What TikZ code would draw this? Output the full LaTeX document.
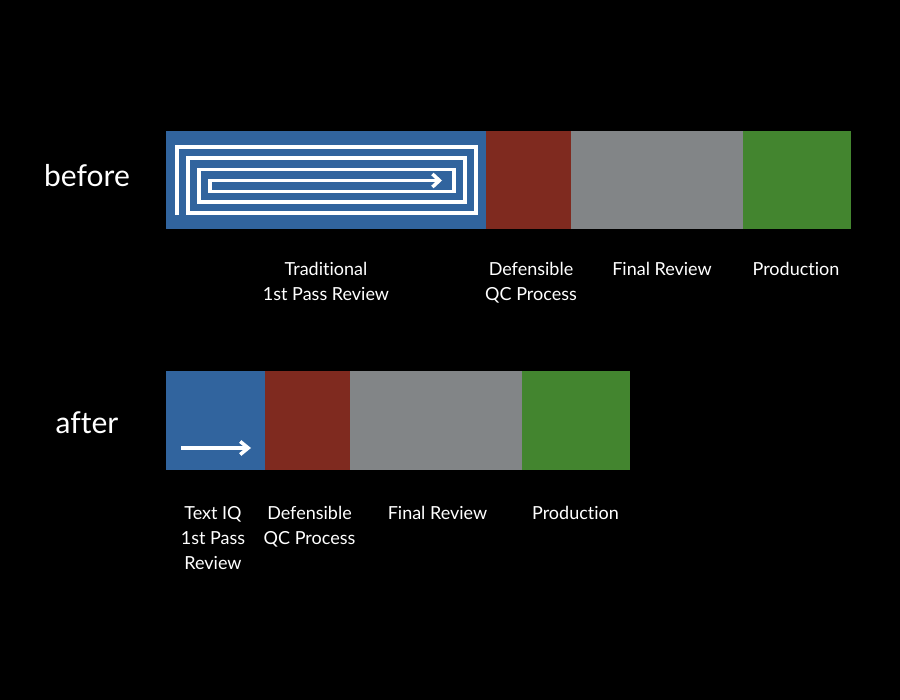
\documentclass[tikz,border=0pt]{standalone}
\usepackage{fontspec}
\setmainfont{Lato}[Ligatures={NoCommon}]
\usetikzlibrary{arrows.meta}
\definecolor{cblue}{HTML}{31649E}
\definecolor{cred}{HTML}{7F2A1F}
\definecolor{cgray}{HTML}{828587}
\definecolor{cgreen}{HTML}{43852F}
\tikzset{
  lbl/.style={text=white,font=\fontsize{18}{25}\selectfont,align=center,anchor=base,inner sep=0pt},
  rowlbl/.style={text=white,font=\fontsize{30}{34}\selectfont,anchor=base,inner sep=0pt},
  flow/.style={white,line width=3.5pt,line cap=butt,line join=miter},
}
\begin{document}
\begin{tikzpicture}[x=1pt,y=-1pt]
\fill[black] (0,0) rectangle (900,700);
\useasboundingbox (0,0) rectangle (900,700);
% before bar
\fill[cblue]  (166,131) rectangle (486,229);
\fill[cred]   (486,131) rectangle (571,229);
\fill[cgray]  (571,131) rectangle (743,229);
\fill[cgreen] (743,131) rectangle (851,229);
% spiral
\coordinate (s0) at (177,215);
\coordinate (sE) at (442,180.5);
\draw[flow,-{Straight Barb[length=7pt,width=13pt,line width=3.5pt]}] (s0) -- (177,147) -- (476,147) -- (476,213) -- (188,213) -- (188,158) -- (465,158) -- (465,202) -- (199,202) -- (199,169.5) -- (454,169.5) -- (454,191.5) -- (210,191.5) -- (210,180.5) -- (sE);
% after bar
\fill[cblue]  (166,371) rectangle (265,470);
\fill[cred]   (265,371) rectangle (350,470);
\fill[cgray]  (350,371) rectangle (522,470);
\fill[cgreen] (522,371) rectangle (630,470);
\coordinate (a0) at (181,448);
\coordinate (a1) at (251,448);
\draw[flow,-{Straight Barb[length=8pt,width=13pt,line width=3.5pt]}] (a0) -- (a1);
% row labels
\node[rowlbl] (before) at (87,187) {before};
\node[rowlbl] (after) at (87,434) {after};
% before labels (base anchor = last line baseline)
\node[lbl] (b1) at (326,301) {Traditional\\1st Pass Review};
\node[lbl] (b2) at (531,301) {Defensible\\QC Process};
\node[lbl] (b3) at (662,276) {Final Review};
\node[lbl] (b4) at (796,276) {Production};
% after labels
\node[lbl] (f1) at (213,569) {Text IQ\\1st Pass\\Review};
\node[lbl] (f2) at (309.5,544) {Defensible\\QC Process};
\node[lbl] (f3) at (437.5,519) {Final Review};
\node[lbl] (f4) at (575.5,519) {Production};
\end{tikzpicture}
\end{document}
